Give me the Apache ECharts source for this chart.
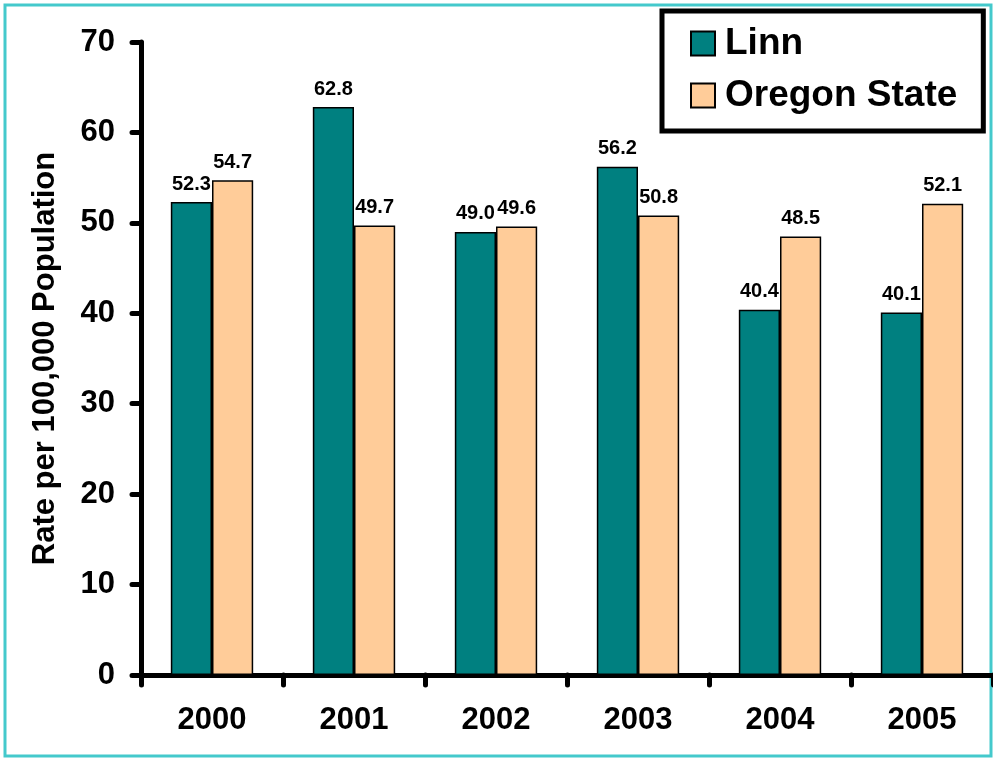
<!DOCTYPE html>
<html>
<head>
<meta charset="utf-8">
<script src="https://cdn.jsdelivr.net/npm/echarts@6/dist/echarts.min.js"></script>
<style>
  html, body { margin: 0; padding: 0; background: #fff; }
  #chart { width: 993px; height: 758px; }
</style>
</head>
<body>
<div id="chart"></div>
<script>
// data
var years = ['2000', '2001', '2002', '2003', '2004', '2005'];
var linn = [52.3, 62.8, 49.0, 56.2, 40.4, 40.1];
var oregon = [54.7, 49.7, 49.6, 50.8, 48.5, 52.1];

var font = 'Arial, "Liberation Sans", sans-serif';

var myChart = echarts.init(document.getElementById('chart'));
var option;

option = {
  animation: false,
  graphic: [
    {
      type: 'rect',
      shape: { x: 5, y: 5, width: 986, height: 751 },
      style: { fill: 'none', stroke: '#44c9cc', lineWidth: 3 },
      z: 0
    }
  ],
  grid: {
    left: 141,
    top: 42,
    width: 855,
    height: 633
  },
  legend: {
    orient: 'vertical',
    left: 662,
    top: 11,
    padding: [14, 26, 17, 28],
    backgroundColor: '#fff',
    borderColor: '#000',
    borderWidth: 5,
    itemWidth: 24,
    itemHeight: 24,
    itemGap: 15,
    icon: 'rect',
    textStyle: { fontFamily: font, fontSize: 37, fontWeight: 'bold', color: '#000', padding: [0, 0, 0, 5] },
    data: ['Linn', 'Oregon State']
  },
  xAxis: {
    type: 'category',
    data: years,
    axisLine: { lineStyle: { color: '#000', width: 5, cap: 'round' } },
    axisTick: { show: true, length: 10, lineStyle: { color: '#000', width: 5, cap: 'round' } },
    axisLabel: { margin: 30, fontFamily: font, fontSize: 31, fontWeight: 'bold', color: '#000' }
  },
  yAxis: {
    type: 'value',
    min: 0,
    max: 70,
    interval: 10,
    name: 'Rate per 100,000 Population',
    nameLocation: 'middle',
    nameGap: 80,
    nameTextStyle: { fontFamily: font, fontSize: 31, fontWeight: 'bold', color: '#000' },
    splitLine: { show: false },
    axisLine: { show: true, lineStyle: { color: '#000', width: 5, cap: 'round' } },
    axisTick: { show: true, length: 9, lineStyle: { color: '#000', width: 5, cap: 'round' } },
    axisLabel: { margin: 26, fontFamily: font, fontSize: 31, fontWeight: 'bold', color: '#000' }
  },
  series: [
    {
      name: 'Linn',
      type: 'bar',
      data: linn,
      barGap: '0%',
      barCategoryGap: '42%',
      itemStyle: { color: '#008080', borderColor: '#000', borderWidth: 1.5 },
      label: {
        show: true,
        position: 'top',
        distance: 8,
        formatter: function (p) { return p.value.toFixed(1); },
        fontFamily: font, fontSize: 20, fontWeight: 'bold', color: '#000'
      }
    },
    {
      name: 'Oregon State',
      type: 'bar',
      data: oregon,
      itemStyle: { color: '#ffcc99', borderColor: '#000', borderWidth: 1.5 },
      label: {
        show: true,
        position: 'top',
        distance: 8,
        formatter: function (p) { return p.value.toFixed(1); },
        fontFamily: font, fontSize: 20, fontWeight: 'bold', color: '#000'
      }
    }
  ]
};

option && myChart.setOption(option);
</script>
</body>
</html>
